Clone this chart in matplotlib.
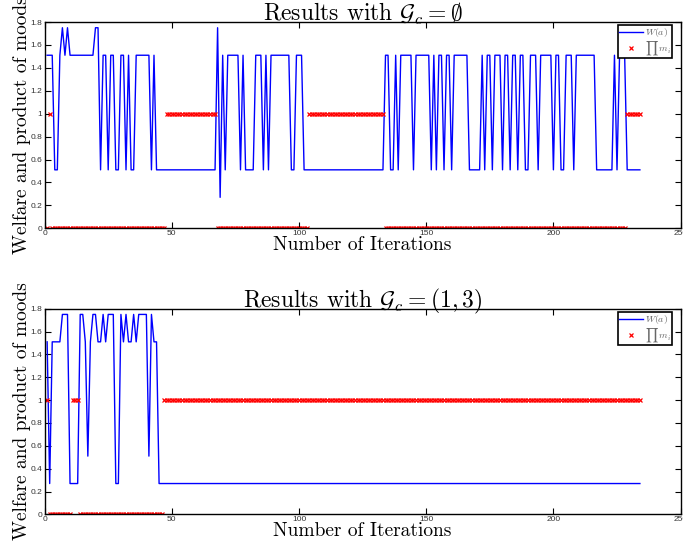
import numpy as np
import matplotlib
matplotlib.use("Agg")
import matplotlib.pyplot as plt

# =========================
# 1. data (stored as runs: level, length)
# =========================
top_welfare_levels = [1.51, 0.51, 1.51, 1.75, 1.51, 1.75, 1.51, 1.75, 0.51, 1.51,
                      0.51, 1.51, 0.51, 1.51, 0.51, 1.51, 0.51, 1.51, 0.51, 1.51,
                      0.51, 1.75, 0.27, 1.51, 0.51, 1.51, 0.51, 1.51, 0.51, 1.51,
                      0.51, 1.51, 0.51, 1.51, 0.51, 1.51, 0.51, 1.51, 0.51, 1.51,
                      0.51, 1.51, 0.51, 1.51, 0.51, 1.51, 0.51, 1.51, 0.51, 1.51,
                      0.51, 1.51, 0.51, 1.51, 0.51, 1.51, 0.51, 1.51, 0.51, 1.51,
                      0.51, 1.51, 0.51, 1.51, 0.51, 1.51, 0.51, 1.51, 0.51, 1.51,
                      0.51, 1.51, 0.51, 1.51, 0.51, 1.51, 0.51, 1.51, 0.51]
top_welfare_counts = [3, 2, 1, 1, 1, 1, 10, 2, 1, 2,
                      1, 2, 2, 2, 1, 1, 2, 6, 1, 1,
                      24, 1, 1, 1, 1, 5, 1, 1, 4, 3,
                      1, 1, 1, 8, 2, 3, 32, 2, 2, 1,
                      1, 5, 1, 6, 1, 1, 1, 2, 1, 2,
                      1, 6, 5, 1, 1, 2, 1, 3, 1, 2,
                      1, 2, 1, 2, 2, 3, 1, 5, 1, 2,
                      2, 3, 1, 8, 7, 1, 1, 3, 6]

top_moods_levels = [0, 1, 0, 1, 0, 1, 0, 1]
top_moods_counts = [1, 1, 45, 20, 36, 30, 95, 6]

bot_welfare_levels = [1.51, 0.27, 1.51, 1.75, 0.27, 1.75, 1.51, 0.51, 1.51, 1.75,
                      1.51, 1.75, 1.51, 1.75, 0.27, 1.75, 1.51, 1.75, 1.51, 1.75,
                      1.51, 1.75, 0.51, 1.75, 1.51, 0.27]
bot_welfare_counts = [1, 1, 4, 3, 4, 2, 1, 1, 1, 2,
                      2, 1, 1, 3, 2, 1, 1, 1, 2, 1,
                      1, 4, 1, 1, 2, 190]

bot_moods_levels = [1, 0, 1, 0, 1]
bot_moods_counts = [1, 9, 3, 33, 188]

titles = [r"Results with $\mathcal{G}_c = \emptyset$",
          r"Results with $\mathcal{G}_c = (1,3)$"]

yticks = [0, 0.2, 0.4, 0.6, 0.8, 1, 1.2, 1.4, 1.6, 1.8]
xticks = [0, 50, 100, 150, 200, 250]

# =========================
# 2. expand runs into per-iteration series
# =========================
top_welfare = np.repeat(top_welfare_levels, top_welfare_counts)
top_moods = np.repeat(top_moods_levels, top_moods_counts)
bot_welfare = np.repeat(bot_welfare_levels, bot_welfare_counts)
bot_moods = np.repeat(bot_moods_levels, bot_moods_counts)
iters = np.arange(1, len(top_welfare) + 1)

# =========================
# 3. figure
# =========================
plt.rcParams["mathtext.fontset"] = "cm"

fig = plt.figure(figsize=(6.83, 5.46), dpi=100)
ax_top = fig.add_axes([0.0653, 0.5819, 0.9312, 0.3778])
ax_bot = fig.add_axes([0.0653, 0.0579, 0.9312, 0.3767])

panels = [(ax_top, top_welfare, top_moods, titles[0]),
          (ax_bot, bot_welfare, bot_moods, titles[1])]

for ax, welfare, moods, title in panels:
    ax.plot(iters, welfare, color="#0000ff", lw=1.0, label=r"$W(a)$")
    ax.plot(iters, moods, ls="none", marker="x", color="#ff0000",
            ms=3.4, mew=0.9, label=r"$\prod\, m_i$")

    ax.set_xlim(0, 250)
    ax.set_ylim(0, 1.8)
    ax.set_xticks(xticks)
    ax.set_yticks(yticks)
    ax.set_yticklabels([f"{v:g}" for v in yticks])
    ax.tick_params(direction="in", top=True, right=True, length=4, width=0.8,
                   labelsize=6, pad=1.5)
    for lab in ax.get_xticklabels() + ax.get_yticklabels():
        lab.set_fontfamily("Liberation Sans")
        lab.set_color("#333333")
    for sp in ax.spines.values():
        sp.set_linewidth(1.0)

    ax.set_title(title, fontfamily="cmr10", fontsize=17, pad=1)
    ax.set_xlabel(r"Number of Iterations", fontfamily="cmr10", fontsize=14,
                  labelpad=-1)
    ax.set_ylabel(r"Welfare and product of moods", fontfamily="cmr10",
                  fontsize=14, labelpad=0)
    ax.yaxis.set_label_coords(-0.022, 0.5)

    leg = ax.legend(loc="upper right", bbox_to_anchor=(0.9865, 0.984),
                    fontsize=7, frameon=True, fancybox=False,
                    framealpha=1, borderpad=0.1, labelspacing=0.0,
                    handlelength=2.4, handletextpad=0.2, borderaxespad=0.0,
                    markerscale=0.8)
    leg.get_frame().set_edgecolor("black")
    leg.get_frame().set_linewidth(1.2)
    for t in leg.get_texts():
        t.set_color("#666666")

fig.savefig("out.png", dpi=100)
